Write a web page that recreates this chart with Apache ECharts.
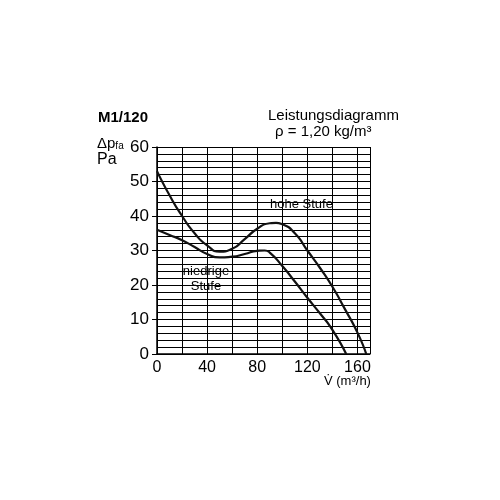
<!DOCTYPE html><html><head><meta charset="utf-8"><script src="https://cdn.jsdelivr.net/npm/echarts@6/dist/echarts.min.js"></script></head><body style="margin:0;background:#fff"><div id="c" style="width:500px;height:500px"></div><script>
const highX=[0,10,20,30,40,50,60,70,80,90,95,100,110,120,130,140,150,160,167];
const highY=[53,46,40,35,31.5,29.7,30.5,33.3,36.3,37.9,38,37.6,35,30,25,19.5,13,6.2,0];
const lowX=[0,10,20,30,40,50,60,70,80,86,90,100,110,120,130,140,151];
const lowY=[36,34.5,33,31,29,28,28.2,29,29.9,30,29.4,25.5,21,16.3,11.8,7,0];
const xTicks=[0,40,80,120,160];
const yTicks=[0,10,20,30,40,50,60];
const ch=echarts.init(document.getElementById('c'));
const f='Liberation Sans, Arial, sans-serif';
ch.setOption({animation:false,
grid:{left:157,right:130,top:147,bottom:146},
xAxis:{type:'value',min:0,max:170,interval:20,axisLine:{lineStyle:{color:'#000',width:1.5}},axisTick:{show:false},
 splitLine:{lineStyle:{color:'#000',width:1}},axisLabel:{color:'#000',fontSize:16,fontFamily:f,margin:6,formatter:v=>xTicks.includes(v)?v:''}},
yAxis:{type:'value',min:0,max:60,interval:10,axisLine:{show:true,lineStyle:{color:'#000',width:1.5}},axisTick:{show:true,length:5,lineStyle:{color:'#000'}},
 minorTick:{show:false},minorSplitLine:{show:true,lineStyle:{color:'#000',width:1}},
 splitLine:{lineStyle:{color:'#000',width:1}},axisLabel:{color:'#000',fontSize:17,fontFamily:f,margin:8}},
series:[
{type:'line',smooth:0.6,symbol:'none',data:highX.map((x,i)=>[x,highY[i]]),lineStyle:{color:'#111',width:2.2}},
{type:'line',smooth:0.6,symbol:'none',data:lowX.map((x,i)=>[x,lowY[i]]),lineStyle:{color:'#111',width:2.2}}],
graphic:[
{type:'text',left:98,top:110,style:{text:'M1/120',font:'bold 15px '+f,fill:'#000'}},
{type:'text',left:97,top:136,style:{text:'{a|Δp}{s|fa}',rich:{a:{fontSize:15,fontFamily:f,fill:'#000'},s:{fontSize:10,fontFamily:f,fill:'#000',padding:[6,0,0,0]}}}},
{type:'text',left:97,top:152,style:{text:'Pa',font:'16px '+f,fill:'#000'}},
{type:'text',left:268,top:108,style:{text:'Leistungsdiagramm',font:'15px '+f,fill:'#000'}},
{type:'text',left:275,top:124,style:{text:'ρ = 1,20 kg/m³',font:'15px '+f,fill:'#000'}},
{type:'text',left:324,top:375,style:{text:'V̇ (m³/h)',font:'13px '+f,fill:'#000'}},
{type:'text',left:269,top:197,style:{text:'hohe Stufe',font:'13px '+f,fill:'#000',backgroundColor:'#fff',padding:[1,1]}},
{type:'text',x:206,y:263,style:{text:'niedrige\nStufe',font:'13px '+f,fill:'#000',align:'center',backgroundColor:'#fff',lineHeight:15,padding:[1,1]}}
]});
</script></body></html>
